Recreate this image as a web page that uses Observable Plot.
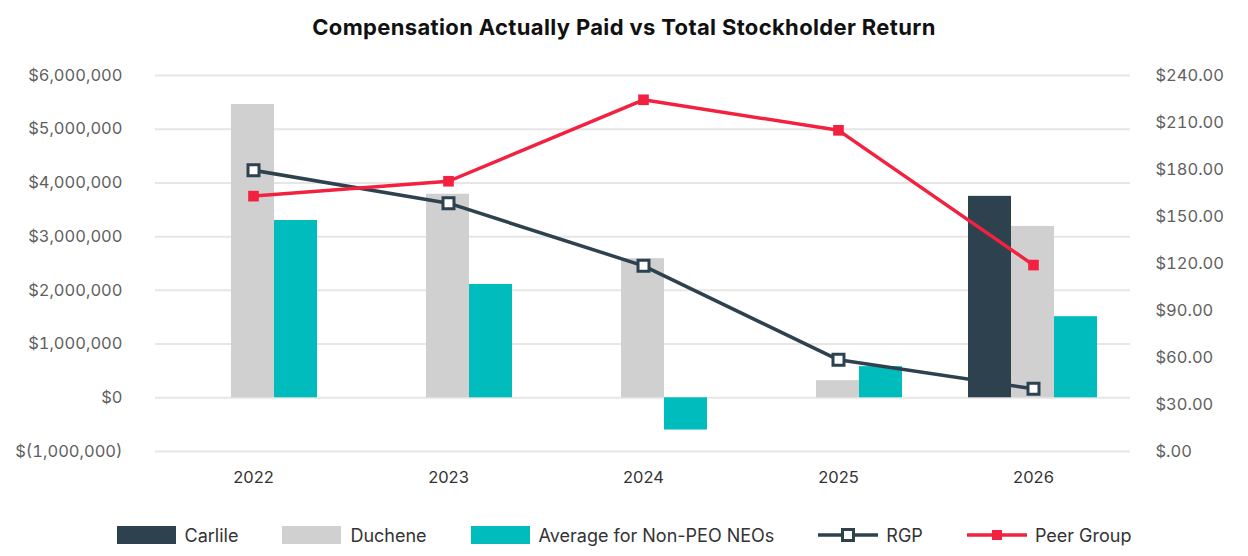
<!DOCTYPE html>
<html>
<head>
<meta charset="utf-8">
<script src="https://cdn.jsdelivr.net/npm/d3@7"></script>
<script src="https://cdn.jsdelivr.net/npm/@observablehq/plot@0.6"></script>
<style>
  body { margin: 0; background: #fff; font-family: Inter, "Open Sans", sans-serif; }
  #wrap { width: 1248px; }
  #title { height: 54px; line-height: 54px; text-align: center; font-weight: 700; font-size: 22px; color: #111; letter-spacing: 0.35px; }
  #chart { position: relative; width: 1248px; height: 440px; }
  #chart svg { position: absolute; left: 0; top: 0; background: transparent; }
  #legend { display: flex; justify-content: center; align-items: center; margin-top: 29px; height: 24px; font-size: 18px; color: #333; }
  .item { display: flex; align-items: center; margin: 0 22px; }
  .sw { width: 59px; height: 18px; margin-right: 9px; }
  .lsw { width: 60px; height: 18px; margin-right: 8px; }
</style>
</head>
<body>
<div id="wrap">
  <div id="title">Compensation Actually Paid vs Total Stockholder Return</div>
  <div id="chart"></div>
  <div id="legend"></div>
</div>
<script>
const years = ["2022", "2023", "2024", "2025", "2026"];
const barSeries = ["Carlile", "Duchene", "Average for Non-PEO NEOs"];
const carlile = [null, null, null, null, 3750000];
const duchene = [5460000, 3790000, 2590000, 320000, 3190000];
const neo = [3300000, 2110000, -600000, 580000, 1510000];
const rgp = [179.5, 158.5, 118.5, 58.5, 40.0];
const peer = [163, 172.5, 224.5, 205, 119];
const leftTicks = [-1000000, 0, 1000000, 2000000, 3000000, 4000000, 5000000, 6000000];
const rightTicks = [0, 30, 60, 90, 120, 150, 180, 210, 240];
const barColors = ["#2d424e", "#d0d0d0", "#00bcbc"];
const rgpColor = "#2d424e";
const peerColor = "#f2213f";

const barRows = [];
[carlile, duchene, neo].forEach((arr, i) => {
  arr.forEach((v, j) => { if (v != null) barRows.push({year: years[j], series: barSeries[i], value: v}); });
});
const rgpRows = years.map((y, i) => ({year: y, value: rgp[i]}));
const peerRows = years.map((y, i) => ({year: y, value: peer[i]}));

const fmtLeft = v => v === 0 ? "$0" : v < 0 ? "$(" + d3.format(",")(-v) + ")" : "$" + d3.format(",")(v);
const fmtRight = v => v === 0 ? "$.00" : "$" + v.toFixed(2);

const W = 1248, H = 440;
const M = {marginLeft: 155, marginRight: 118, marginTop: 21, marginBottom: 43};
const font = {fontFamily: "Inter, 'Open Sans', sans-serif", fontSize: "16.5px", color: "#5f5f5f", background: "transparent"};

// Layer 0: gridlines + left axis + x axis
const base = Plot.plot({
  width: W, height: H, ...M,
  style: font,
  x: {type: "point", domain: years, padding: 0.5, label: null, tickSize: 0, tickPadding: 20},
  y: {domain: [-1000000, 6000000], ticks: leftTicks, tickFormat: fmtLeft, label: null, tickSize: 0, tickPadding: 33},
  marks: [
    Plot.ruleY(leftTicks, {stroke: "#e6e6e6", strokeWidth: 2})
  ]
});

// Layer 1: grouped bars
const bars = Plot.plot({
  width: W, height: H, ...M,
  style: font,
  facet: {data: barRows, x: "year", marginLeft: M.marginLeft, marginRight: M.marginRight, marginTop: M.marginTop, marginBottom: M.marginBottom},
  fx: {domain: years, paddingInner: 0.34, paddingOuter: 0.17, axis: null, label: null},
  x: {domain: barSeries, padding: 0, axis: null},
  y: {domain: [-1000000, 6000000], axis: null},
  color: {domain: barSeries, range: barColors},
  marks: [
    Plot.barY(barRows, {x: "series", y: "value", fill: "series"})
  ]
});

// Layer 2: TSR lines + right axis
const lines = Plot.plot({
  width: W, height: H, ...M,
  style: font,
  x: {type: "point", domain: years, padding: 0.5, axis: null},
  y: {domain: [0, 240], ticks: rightTicks, tickFormat: fmtRight, axis: "right", label: null, tickSize: 0, tickPadding: 25},
  marks: [
    Plot.line(rgpRows, {x: "year", y: "value", stroke: rgpColor, strokeWidth: 3.5}),
    Plot.line(peerRows, {x: "year", y: "value", stroke: peerColor, strokeWidth: 3.5}),
    Plot.dot(rgpRows, {x: "year", y: "value", symbol: "square", r: 6.2, fill: "#fff", stroke: rgpColor, strokeWidth: 3}),
    Plot.dot(peerRows, {x: "year", y: "value", symbol: "square", r: 6, fill: peerColor, stroke: "none"})
  ]
});

const chart = document.getElementById("chart");
[base, bars, lines].forEach(s => chart.appendChild(s));
base.querySelectorAll('[aria-label^="x-axis"]').forEach(g => { g.style.color = "#333"; g.setAttribute("fill", "#333"); g.querySelectorAll("text").forEach(t => t.setAttribute("fill", "#333")); });

// Legend
const legend = document.getElementById("legend");
barSeries.forEach((s, i) => {
  const it = document.createElement("div");
  it.className = "item";
  it.innerHTML = `<div class="sw" style="background:${barColors[i]}"></div><span>${s}</span>`;
  legend.appendChild(it);
});
[["RGP", rgpColor, "#fff"], ["Peer Group", peerColor, peerColor]].forEach(([name, c, f]) => {
  const it = document.createElement("div");
  it.className = "item";
  it.innerHTML = `<svg class="lsw" viewBox="0 0 60 18"><line x1="0" y1="9" x2="60" y2="9" stroke="${c}" stroke-width="3.5"/><rect x="${f === "#fff" ? 24.5 : 25}" y="${f === "#fff" ? 3.5 : 4}" width="${f === "#fff" ? 11 : 10}" height="${f === "#fff" ? 11 : 10}" fill="${f}" stroke="${f === "#fff" ? c : "none"}" stroke-width="3"/></svg><span>${name}</span>`;
  legend.appendChild(it);
});
</script>
</body>
</html>
